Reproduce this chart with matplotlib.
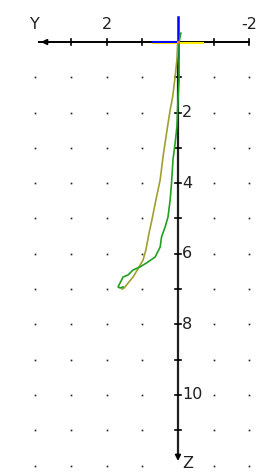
import numpy as np
import matplotlib
matplotlib.use('Agg')
import matplotlib.pyplot as plt

# traced profiles (Y, Z)
olive_y = [0.0, 0.03, 0.06, 0.08, 0.15, 0.22, 0.32, 0.42, 0.50, 0.62, 0.73, 0.81, 0.90, 0.98, 1.09, 1.26, 1.40, 1.51, 1.57]
olive_z = [0.0, 0.51, 0.79, 0.99, 1.56, 1.93, 2.58, 3.26, 3.91, 4.48, 5.04, 5.41, 5.89, 6.18, 6.37, 6.66, 6.83, 6.97, 7.00]
green_y = [-0.08, -0.03, -0.03, 0.0, 0.03, 0.08, 0.14, 0.18, 0.22, 0.28, 0.36, 0.46, 0.50, 0.64, 0.88, 1.06, 1.26, 1.40, 1.54, 1.61, 1.68, 1.62, 1.54]
green_z = [-0.25, 0.0, 1.08, 1.64, 2.41, 2.86, 3.34, 3.99, 4.48, 4.96, 5.24, 5.52, 5.81, 6.09, 6.26, 6.37, 6.46, 6.60, 6.66, 6.80, 6.94, 6.97, 6.94]

y_ticks = [4, 3, 2, 1, -1, -2]
y_labels = {2: '2', -2: '-2'}
z_ticks = list(range(1, 13))
z_labels = {2: '2', 4: '4', 6: '6', 8: '8', 10: '10'}

fig = plt.figure(figsize=(2.65, 4.74), dpi=100)
ax = fig.add_axes([0, 0, 1, 1])
ax.set_xlim(4.99, -2.44)
ax.set_ylim(12.24, -1.19)
ax.axis('off')

# dotted grid
for yy in y_ticks:
    for zz in z_ticks:
        ax.plot(yy, zz, marker='s', ms=1.2, color='#202020', mec='none')

# axes
ax.plot([3.9, -2.0], [0, 0], color='black', lw=1.4)
ax.annotate('', xy=(3.92, 0), xytext=(3.6, 0),
            arrowprops=dict(arrowstyle='-|>', color='black', lw=1.3, mutation_scale=8))
ax.plot([0, 0], [0, 11.75], color='#202020', lw=1.6)
ax.annotate('', xy=(0, 11.95), xytext=(0, 11.6),
            arrowprops=dict(arrowstyle='-|>', color='black', lw=1.3, mutation_scale=8))
for yy in [3, 2, 1, -1, -2]:
    ax.plot([yy, yy], [-0.09, 0.09], color='black', lw=1.2)
for zz in range(1, 12):
    ax.plot([-0.09, 0.09], [zz, zz], color='black', lw=1.2)

fs = 11.5
for yy, t in y_labels.items():
    ax.text(yy, -0.5, t, ha='center', va='center', fontsize=fs, color='#202020')
ax.text(4.0, -0.5, 'Y', ha='center', va='center', fontsize=fs, color='#202020')
for zz, t in z_labels.items():
    ax.text(-0.12, zz, t, ha='left', va='center', fontsize=fs, color='#202020')
ax.text(-0.12, 11.95, 'Z', ha='left', va='center', fontsize=fs, color='#202020')

# origin cross
ax.plot([0.7, -0.7], [0.03, 0.03], color='#ffee00', lw=1.5)
ax.plot([0.7, 0], [0, 0], color='#0000ff', lw=1.5)
ax.plot([0, 0], [-0.7, 0.45], color='#0000ff', lw=1.8)

ax.plot(olive_y, olive_z, color='#a0a030', lw=1.2)
ax.plot(green_y, green_z, color='#20a020', lw=1.2)
ax.plot(0, 0, marker='o', ms=2, color='#ff8040', mec='none')

fig.savefig('out.png', dpi=100)
